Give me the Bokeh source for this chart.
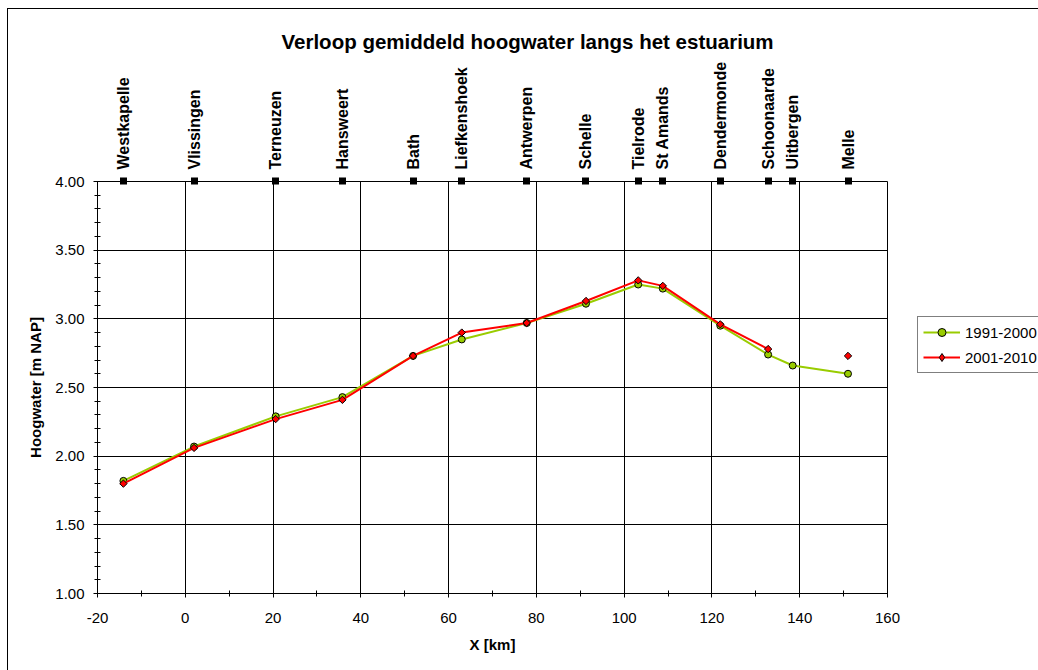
import math
from bokeh.plotting import figure
from bokeh.models import (ColumnDataSource, Range1d, SingleIntervalTicker, FixedTicker,
                          NumeralTickFormatter, CustomJSTickFormatter, LinearAxis,
                          Legend, LegendItem)
from bokeh.embed import file_html
from bokeh.resources import INLINE

# ---------------- data ----------------
stations = ["Westkapelle", "Vlissingen", "Terneuzen", "Hansweert", "Bath", "Liefkenshoek",
            "Antwerpen", "Schelle", "Tielrode", "St Amands", "Dendermonde", "Schoonaarde",
            "Uitbergen", "Melle"]
km = [-14.1, 2.0, 20.6, 35.8, 51.9, 63.0, 77.8, 91.3, 103.2, 108.8, 121.9, 132.8, 138.4, 151.0]
hw_1991_2000 = [1.82, 2.07, 2.29, 2.43, 2.73, 2.85, 2.97, 3.11, 3.25, 3.22, 2.95, 2.74, 2.66, 2.60]
hw_2001_2010 = [1.80, 2.06, 2.27, 2.41, 2.73, 2.90, 2.97, 3.13, 3.28, 3.24, 2.96, 2.78, float("nan"), 2.73]
series_labels = ["1991-2000", "2001-2010"]
title_text = "Verloop gemiddeld hoogwater langs het estuarium"
x_label = "X [km]"
y_label = "Hoogwater [m NAP]"
x_min, x_max = -20, 160
y_min, y_max = 1.0, 4.0

FONT = "Liberation Sans"
GREEN = "#99CC00"
RED = "#FF0000"

src = ColumnDataSource(dict(km=km, a=hw_1991_2000, b=hw_2001_2010))

p = figure(frame_width=790, frame_height=412,
           min_border_left=89, min_border_right=151, min_border_top=172, min_border_bottom=77,
           x_range=Range1d(x_min, x_max), y_range=Range1d(y_min, y_max),
           output_backend="svg", toolbar_location=None)
p.background_fill_color = "white"
p.border_fill_color = "white"
p.outline_line_color = "black"
p.outline_line_width = 1
p.styles = {"margin-left": "7px", "margin-top": "8px",
            "border-left": "1px solid black", "border-top": "1px solid black"}

# title
p.title.text = title_text
p.title.align = "left"
p.title.offset = 184
p.title.text_font = FONT
p.title.text_font_style = "bold"
p.title.text_font_size = "20.5px"
p.title.text_color = "black"
p.title.standoff = 11

# axes
p.xaxis.ticker = SingleIntervalTicker(interval=20, num_minor_ticks=2)
p.xaxis.formatter = NumeralTickFormatter(format="0")
p.yaxis.ticker = SingleIntervalTicker(interval=0.5, num_minor_ticks=5)
p.yaxis.formatter = NumeralTickFormatter(format="0.00")
for ax in (p.xaxis[0], p.yaxis[0]):
    ax.axis_line_color = "black"
    ax.major_tick_line_color = "black"
    ax.minor_tick_line_color = "black"
    ax.major_tick_in = 4
    ax.major_tick_out = 4
    ax.minor_tick_in = 3
    ax.minor_tick_out = 3
    ax.major_label_text_font = FONT
    ax.major_label_text_font_size = "15px"
    ax.major_label_text_color = "black"
    ax.axis_label_text_font = FONT
    ax.axis_label_text_font_style = "bold"
    ax.axis_label_text_font_size = "15px"
    ax.axis_label_text_color = "black"
p.xaxis.axis_label = x_label
p.yaxis.axis_label = y_label
p.xaxis.major_label_standoff = 15
p.yaxis.major_label_standoff = 9
p.xaxis.axis_label_standoff = 10
p.yaxis.axis_label_standoff = 8

for g in (p.xgrid[0], p.ygrid[0]):
    g.grid_line_color = "black"
    g.grid_line_width = 1

# station axis on top: square markers (as thick ticks) and rotated names
top = LinearAxis(ticker=FixedTicker(ticks=km),
                 formatter=CustomJSTickFormatter(args=dict(km=km, names=stations), code="""
                     let best = -1, d = 1e9;
                     for (let i = 0; i < km.length; i++) {
                         const e = Math.abs(km[i] - tick);
                         if (e < d) { d = e; best = i; }
                     }
                     return (best >= 0 && d < 1e-6) ? names[best] : "";
                 """))
top.axis_line_color = None
top.minor_tick_line_color = None
top.major_tick_line_color = "black"
top.major_tick_line_width = 7
top.major_tick_line_cap = "butt"
top.major_tick_in = 3
top.major_tick_out = 4
top.major_label_orientation = "vertical"
top.major_label_standoff = 8
top.major_label_text_font = FONT
top.major_label_text_font_style = "bold"
top.major_label_text_font_size = "16px"
top.major_label_text_color = "black"
p.add_layout(top, "above")

# series
gl = p.line("km", "a", source=src, line_color=GREEN, line_width=2)
gp = p.scatter("km", "a", source=src, marker="circle", size=7, fill_color=GREEN, line_color="black")
rl = p.line("km", "b", source=src, line_color=RED, line_width=2)
rp = p.scatter("km", "b", source=src, marker="square", angle=math.pi / 4, size=5.2,
               fill_color=RED, line_color="black")
# legend-only swatch for the diamond marker (its single point is NaN, so nothing is plotted)
rkey = p.scatter(x=[float("nan")], y=[float("nan")], marker="diamond", size=10,
                 fill_color=RED, line_color="black")

legend = Legend(items=[LegendItem(label=series_labels[0], renderers=[gl, gp]),
                       LegendItem(label=series_labels[1], renderers=[rl, rkey])],
                location=(30, 220))
legend.border_line_color = "black"
legend.border_line_width = 1
legend.background_fill_color = "white"
legend.background_fill_alpha = 1
legend.label_text_font = FONT
legend.label_text_font_size = "15px"
legend.label_text_color = "black"
legend.glyph_width = 37
legend.glyph_height = 20
legend.label_height = 20
legend.label_standoff = 5
legend.padding = 5
legend.spacing = 5
legend.margin = 0
p.add_layout(legend, "right")

open("out.html", "w").write(file_html(p, INLINE))
